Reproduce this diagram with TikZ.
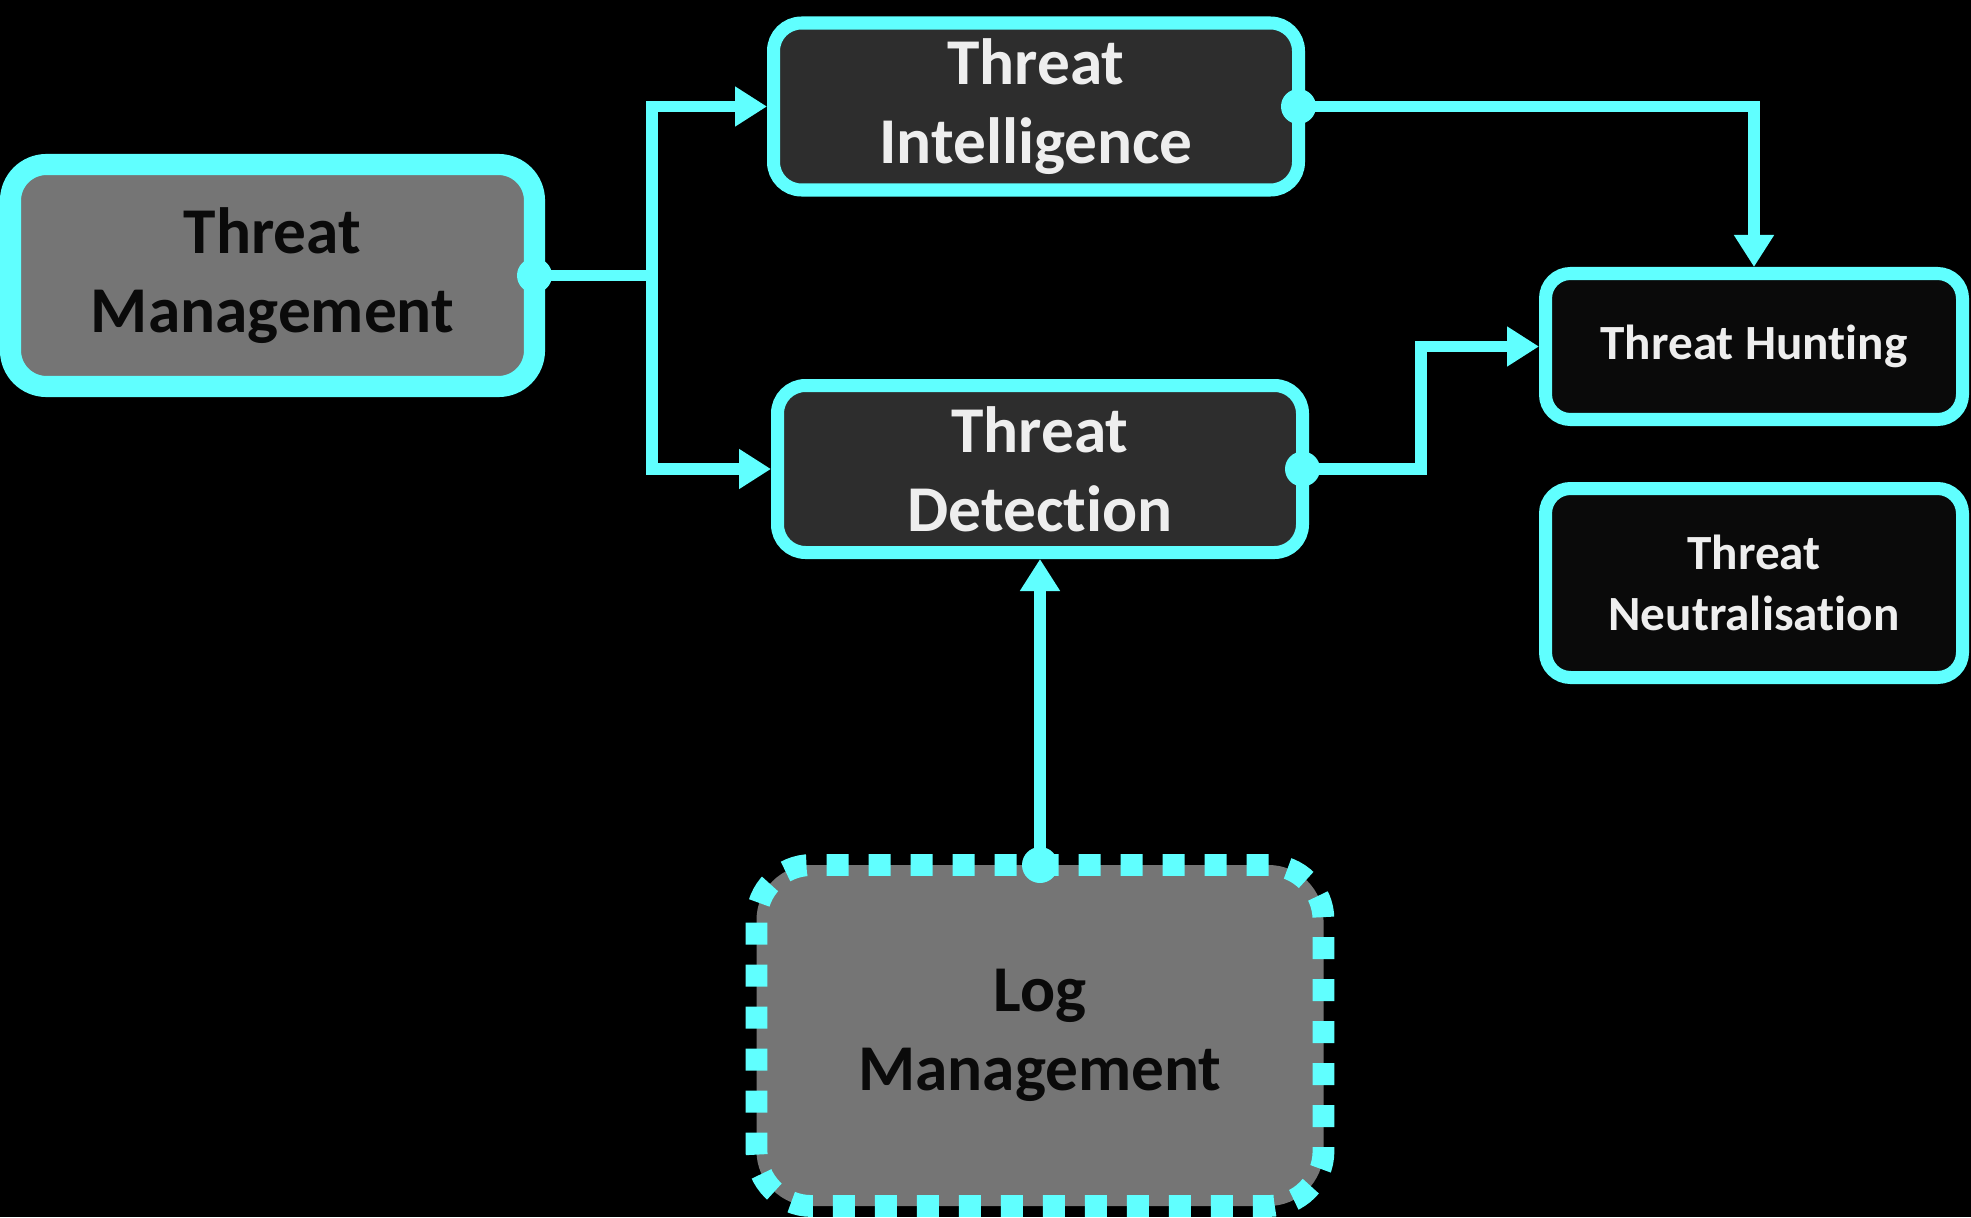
\documentclass[tikz,border=0pt]{standalone}
\usepackage{fontspec}
\setmainfont{Carlito}[Ligatures=NoCommon]
\usepackage{tikz}
\usetikzlibrary{arrows.meta}
\usepackage{xcolor}
\definecolor{GlowCyan}{HTML}{60FFFF}
\definecolor{PanelGray}{HTML}{757575}
\definecolor{PanelDark}{HTML}{2D2D2D}
\definecolor{PanelBlack}{HTML}{0A0A0A}
\definecolor{InkLight}{HTML}{EEEEEE}
\definecolor{InkDark}{HTML}{0A0A0A}

\begin{document}
\begin{tikzpicture}[
    box/.style={draw=GlowCyan, line width=3.7pt, rounded corners=0.28cm, inner sep=0pt, align=center, font=\fontsize{18.6}{22.5}\selectfont\bfseries},
    graybox/.style={box, fill=PanelGray, text=InkDark, line width=6pt, rounded corners=0.36cm},
    darkbox/.style={box, fill=PanelDark, text=InkLight},
    smallbox/.style={box, fill=PanelBlack, text=InkLight, rounded corners=0.25cm, font=\fontsize{14}{17.5}\selectfont\bfseries},
    logbox/.style={graybox, line width=6.2pt, dash pattern=on 0.22cm off 0.2cm, rounded corners=0.55cm},
    link/.style={GlowCyan, line width=3.4pt},
    arr/.style={-{Triangle[length=0.32cm, width=0.38cm]}}
]
    % Background
    \fill[black] (0,0) rectangle (19.71,12.17);
    \useasboundingbox (0,0) rectangle (19.71,12.17);

    % Boxes
    \node[graybox, minimum width=5.24cm, minimum height=2.22cm] (TM) at (2.725, 9.415) {Threat\\Management};
    \node[darkbox, minimum width=5.25cm, minimum height=1.67cm] (TI) at (10.36, 11.105) {Threat\\Intelligence};
    \node[darkbox, minimum width=5.25cm, minimum height=1.67cm] (TD) at (10.40, 7.48) {Threat\\Detection};
    \node[smallbox, minimum width=4.17cm, minimum height=1.46cm] (TH) at (17.54, 8.705) {Threat Hunting};
    \node[smallbox, minimum width=4.17cm, minimum height=1.89cm] (TN) at (17.54, 6.34) {Threat\\Neutralisation};
    \node[logbox, minimum width=5.67cm, minimum height=3.41cm] (LM) at (10.40, 1.815) {Log\\Management};

    % Connectors
    \coordinate (split) at (6.52, 9.415);
    \coordinate (bend) at (14.21, 7.48);
    \draw[link] (TM.east) -- (split);
    \draw[link, arr] (split) |- (TI.west);
    \draw[link, arr] (split) |- (TD.west);
    \draw[link, arr] (TI.east) -| (TH.north);
    \draw[link, arr] (TD.east) -- (bend) |- (TH.west);
    \draw[link, arr] (LM.north) -- (TD.south);

    % Dots
    \fill[GlowCyan] ([xshift=-3pt]TM.east) circle (0.175);
    \foreach \n in {TI, TD} {
        \fill[GlowCyan] ([xshift=-1.85pt]\n.east) circle (0.175);
    }
    \fill[GlowCyan] ([yshift=-3.1pt]LM.north) circle (0.18);
\end{tikzpicture}
\end{document}
